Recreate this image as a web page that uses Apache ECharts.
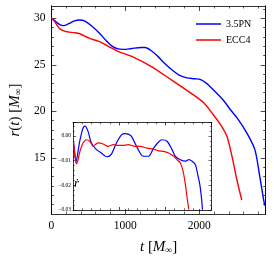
<!DOCTYPE html>
<html><head><meta charset="utf-8">
<script src="https://cdn.jsdelivr.net/npm/echarts@6/dist/echarts.min.js"></script>
<style>html,body{margin:0;padding:0;background:#fff}#c{width:274px;height:260px}</style>
</head><body><div id="c"></div>
<script>
// Main panel: r(t)
const tBlue = [0,47,113,167,233,313,380,460,553,647,740,820,900,980,1087,1220,1270,1353,1440,1527,1647,1727,1833,1940,2020,2100,2180,2327,2420,2527,2643,2753,2820,2864,2887];
const rBlue = [30,29.7,29.3,29.2,29.4,29.7,29.8,29.65,29.1,28.4,27.6,27.0,26.7,26.65,26.75,26.85,26.85,26.5,25.9,25.2,24.35,23.9,23.6,23.5,23.4,23.0,22.4,21.2,20.2,19.15,17.7,15.9,13.0,10.9,9.9];
const tRed = [0,47,109,176,243,309,376,509,643,776,909,1087,1353,1620,1887,2064,2176,2287,2376,2443,2509,2576];
const rRed = [30,29.6,28.9,28.6,28.5,28.45,28.35,27.85,27.5,26.95,26.4,25.9,24.8,23.4,21.96,20.9,19.8,18.6,17.3,15.2,12.7,10.5];
// Inset: rdot(t)
const tInBlue = [11,43,65,93,146,217,261,326,398,507,615,733,833,941,1050,1130,1196,1267,1413,1522,1637,1746,1854,1928,2037,2146,2217,2326,2435,2507,2581,2652,2702,2746,2783,2804];
const vInBlue = [-0.0024,-0.0077,-0.0104,-0.0082,-0.0021,0.0032,0.0040,0.0019,-0.0028,-0.0055,-0.0069,-0.0084,-0.0073,-0.0028,0.0005,0.0010,0.0008,-0.0001,-0.0055,-0.0082,-0.0082,-0.0049,-0.0024,-0.0015,-0.0021,-0.0055,-0.0082,-0.0096,-0.0102,-0.0096,-0.0102,-0.0116,-0.0157,-0.0196,-0.0251,-0.0298];
const tInRed = [11,43,72,109,152,217,289,363,435,500,544,652,761,870,978,1087,1196,1341,1457,1602,1746,1854,1963,2072,2181,2254,2326,2385,2435,2472,2507];
const vInRed = [-0.0024,-0.0081,-0.0113,-0.0097,-0.0061,-0.0028,-0.0015,-0.0021,-0.0042,-0.0032,-0.0028,-0.0032,-0.0042,-0.0035,-0.0038,-0.0038,-0.0035,-0.0042,-0.0042,-0.0049,-0.0053,-0.0060,-0.0062,-0.0069,-0.0082,-0.0096,-0.0109,-0.0143,-0.0197,-0.0251,-0.0298];
const xMajor = [0,1000,2000];
const yMajor = [15,20,25,30];
const yMinor = [10,11,12,13,14,16,17,18,19,21,22,23,24,26,27,28,29,31];
const legendNames = ['3.5PN','ECC4'];
const insetYTicks = [0,-0.01,-0.02,-0.03];

const F = 'Liberation Serif';
const pair = (a,b) => a.map((v,i)=>[v,b[i]]);
const lineAx = {show:true, onZero:false, lineStyle:{color:'#000', width:0.8}};
const rich = {i:{fontStyle:'italic', fontFamily:F, fontSize:15}, s:{fontStyle:'italic', fontFamily:F, fontSize:9.5, verticalAlign:'bottom', lineHeight:10}};

function xAx(grid, pos, labels, max, name) {
  return {type:'value', gridIndex:grid, position:pos, min:0, max:max, interval:1000,
    axisLine:lineAx, splitLine:{show:false},
    axisTick:{show:true, inside:true, length: grid===0?5:3, lineStyle:{color:'#000', width:0.7}},
    minorTick:{show:true, splitNumber:5, length: grid===0?2.5:1.7, lineStyle:{color:'#000', width:0.6}},
    axisLabel:{show:labels, customValues:xMajor, formatter: v => String(v), fontFamily:F, fontSize:11.5, color:'#000', margin:6},
    name: name || '', nameLocation:'middle', nameGap:26,
    nameTextStyle:{fontFamily:F, fontSize:15, color:'#000', rich:rich}};
}
function yMain(pos, major, labels, name) {
  return {type:'value', gridIndex:0, position:pos, min:9, max:31.3,
    axisLine:lineAx, splitLine:{show:false},
    axisTick:{show:true, inside:true, length: major?5:2.5, customValues: major?yMajor:yMinor, lineStyle:{color:'#000', width:0.7}},
    axisLabel:{show:labels, customValues:yMajor, fontFamily:F, fontSize:11.5, color:'#000', margin:6},
    name: name || '', nameLocation:'middle', nameGap:26,
    nameTextStyle:{fontFamily:F, fontSize:15, color:'#000', rich:rich}};
}
function yIn(pos, labels) {
  return {type:'value', gridIndex:1, position:pos, min:-0.03, max:0.0055, interval:0.01,
    axisLine:lineAx, splitLine:{show:false},
    axisTick:{show:true, inside:true, length:3, lineStyle:{color:'#000', width:0.6}},
    minorTick:{show:true, splitNumber:5, length:1.7, lineStyle:{color:'#000', width:0.5}},
    axisLabel:{show:labels, customValues:insetYTicks, fontFamily:F, fontSize:5.5, color:'#000', margin:2,
      formatter: v => (v<0?'\u2212':'') + Math.abs(v).toFixed(2)}};
}

const chart = echarts.init(document.getElementById('c'), null, {renderer:'canvas'});
chart.setOption({
  animation:false,
  backgroundColor:'#fff',
  grid:[{left:48.5, right:8.3, top:6, bottom:46},
        {left:73, right:62.5, top:122.5, bottom:50}],
  legend:{data:legendNames, orient:'vertical', left:191, top:13.5, icon:'rect', itemWidth:25, itemHeight:1.5, itemGap:5,
    textStyle:{fontFamily:F, fontSize:10, color:'#000', lineHeight:11}},
  xAxis:[xAx(0,'bottom',true,2900,'{i|t} [{i|M}{s|\u221e}]'), xAx(0,'top',false,2900), xAx(1,'bottom',false,3000), xAx(1,'top',false,3000)],
  yAxis:[yMain('left',true,true,'{i|r}({i|t}) [{i|M}{s|\u221e}]'), yMain('left',false,false), yMain('right',true,false), yMain('right',false,false), yIn('left',true), yIn('right',false)],
  graphic:[{type:'text', left:74, top:177, style:{text:'\u1e59', fontFamily:F, fontStyle:'italic', fontSize:13, fill:'#000'}}],
  series:[
    {name:'3.5PN', type:'line', xAxisIndex:0, yAxisIndex:0, data:pair(tBlue,rBlue), showSymbol:false, smooth:0.3, lineStyle:{color:'#0000ff', width:1.4}, itemStyle:{color:'#0000ff'}},
    {name:'ECC4', type:'line', xAxisIndex:0, yAxisIndex:0, data:pair(tRed,rRed), showSymbol:false, smooth:0.3, lineStyle:{color:'#ff0000', width:1.4}, itemStyle:{color:'#ff0000'}},
    {name:'3.5PN', type:'line', xAxisIndex:2, yAxisIndex:4, data:pair(tInBlue,vInBlue), showSymbol:false, smooth:0.3, lineStyle:{color:'#0000ff', width:1.2}, itemStyle:{color:'#0000ff'}},
    {name:'ECC4', type:'line', xAxisIndex:2, yAxisIndex:4, data:pair(tInRed,vInRed), showSymbol:false, smooth:0.2, lineStyle:{color:'#ff0000', width:1.2}, itemStyle:{color:'#ff0000'}}
  ]
});
</script></body></html>
